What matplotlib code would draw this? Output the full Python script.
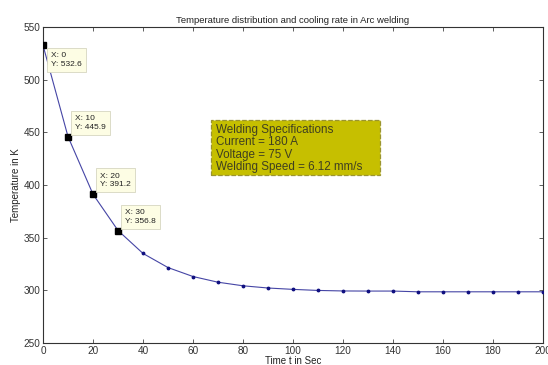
import matplotlib
matplotlib.use("Agg")
import matplotlib.pyplot as plt
from matplotlib.patches import Rectangle

# time (s) and temperature (K)
time_s = [0, 10, 20, 30, 40, 50, 60, 70, 80, 90, 100,
          110, 120, 130, 140, 150, 160, 170, 180, 190, 200]
temp_k = [532.6, 445.9, 391.2, 356.8, 335.0, 321.6, 313.1, 307.7, 304.3, 302.2, 300.9,
          299.9, 299.4, 299.3, 299.3, 298.6, 298.6, 298.6, 298.6, 298.6, 298.6]

# data tips shown on the curve
tip_x = [0, 10, 20, 30]
tip_y = [532.6, 445.9, 391.2, 356.8]

spec_lines = ["Welding Specifications", "Current = 180 A",
              "Voltage = 75 V", "Welding Speed = 6.12 mm/s"]

plt.rcParams['font.family'] = ['Liberation Sans', 'DejaVu Sans']

fig = plt.figure(figsize=(5.48, 3.65), dpi=100)
ax = fig.add_axes([0.0785, 0.0603, 0.9125, 0.8657])

ax.plot(time_s, temp_k, color='#4545a5', lw=0.8, marker='.', ms=3.5,
        mfc='#101080', mec='#101080', zorder=3)
ax.plot(tip_x, tip_y, ls='none', marker='s', ms=5, color='black', zorder=4)

# data tip boxes: (dx, dy, va) offsets in pixels
tip_offsets = [(8, -7, 'top'), (7, 6, 'bottom'), (7, 6, 'bottom'), (7, 6, 'bottom')]
for x, y, (dx, dy, va) in zip(tip_x, tip_y, tip_offsets):
    ax.annotate(f"X: {x}\nY: {y}", xy=(x, y), xytext=(dx, dy),
                textcoords='offset pixels', ha='left', va=va, fontsize=6,
                color='#222222', linespacing=1.35,
                bbox=dict(boxstyle='square,pad=0.5', fc='#fdfde4', ec='#d6d6c0', lw=0.6),
                zorder=5)

# specification box
ax.add_patch(Rectangle((67.2, 409.5), 67.6, 52.2, fc='#c6bf00', ec='#9a9430',
                       lw=0.9, ls='--', zorder=5))
ax.text(69.0, 457.8, "\n".join(spec_lines), ha='left', va='top', fontsize=8.4,
        color='#404020', linespacing=1.03, zorder=6)

ax.set_xlim(0, 200)
ax.set_ylim(250, 550)
ax.set_xticks(range(0, 201, 20))
ax.set_yticks(range(250, 551, 50))
ax.tick_params(direction='in', top=True, right=True, length=3, width=0.6,
               labelsize=7.2, labelcolor='#333333', color='#444444', pad=2)
for s in ax.spines.values():
    s.set_linewidth(0.8)
    s.set_color('#333333')

ax.set_title("Temperature distribution and cooling rate in Arc welding",
             fontsize=6.8, color='#222222', pad=3)
ax.set_xlabel("Time t in Sec", fontsize=7, color='#222222', labelpad=0)
ax.set_ylabel("Temperature in K", fontsize=7, color='#222222', labelpad=2)

fig.savefig("out.png", dpi=100)
